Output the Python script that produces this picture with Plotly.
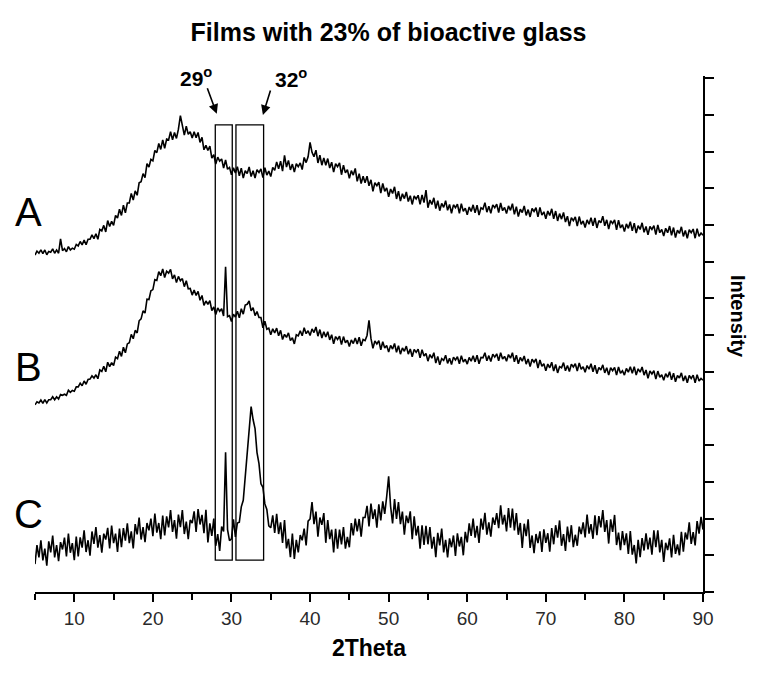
import numpy as np
import plotly.graph_objects as go

# 2Theta grid, 0.25 deg steps from 5 to 90
two_theta = np.round(np.arange(5, 90.001, 0.25), 2)

# intensities (a.u., one tick = 100)
film_a = [
    918, 929, 923, 932, 922, 932, 919, 928, 926, 935, 923, 932, 923, 962, 930, 936,
    927, 941, 932, 937, 934, 947, 943, 955, 946, 959, 946, 961, 961, 973, 963, 976,
    961, 988, 984, 999, 981, 1012, 996, 1010, 999, 1026, 1019, 1043, 1026, 1054, 1033, 1060,
    1060, 1086, 1068, 1093, 1081, 1115, 1118, 1140, 1129, 1167, 1158, 1179, 1175, 1203, 1197, 1222,
    1206, 1232, 1209, 1234, 1232, 1254, 1232, 1252, 1236, 1261, 1298, 1266, 1245, 1269, 1247, 1254,
    1237, 1254, 1238, 1252, 1225, 1239, 1205, 1217, 1203, 1215, 1182, 1192, 1166, 1185, 1174, 1180,
    1155, 1177, 1152, 1157, 1137, 1156, 1142, 1159, 1134, 1155, 1128, 1148, 1140, 1158, 1132, 1148,
    1128, 1151, 1143, 1153, 1129, 1156, 1136, 1147, 1132, 1157, 1149, 1172, 1153, 1174, 1147, 1190,
    1158, 1176, 1150, 1166, 1144, 1167, 1159, 1169, 1151, 1184, 1170, 1186, 1225, 1198, 1186, 1204,
    1169, 1190, 1163, 1183, 1163, 1181, 1155, 1171, 1144, 1167, 1159, 1169, 1137, 1163, 1142, 1151,
    1127, 1148, 1136, 1154, 1119, 1140, 1113, 1133, 1115, 1133, 1107, 1123, 1092, 1115, 1107, 1117,
    1087, 1113, 1092, 1101, 1077, 1098, 1086, 1104, 1071, 1092, 1065, 1085, 1072, 1090, 1064, 1080,
    1056, 1079, 1071, 1081, 1056, 1082, 1061, 1095, 1047, 1068, 1056, 1074, 1045, 1066, 1039, 1059,
    1048, 1066, 1040, 1056, 1032, 1055, 1047, 1057, 1032, 1058, 1037, 1046, 1028, 1049, 1037, 1055,
    1033, 1054, 1027, 1047, 1043, 1061, 1035, 1051, 1032, 1055, 1047, 1057, 1034, 1060, 1039, 1048,
    1031, 1052, 1040, 1058, 1029, 1050, 1023, 1043, 1034, 1052, 1026, 1042, 1022, 1045, 1037, 1047,
    1022, 1048, 1027, 1036, 1017, 1038, 1026, 1044, 1017, 1038, 1011, 1031, 1016, 1034, 1008, 1024,
    997, 1020, 1012, 1022, 997, 1023, 1002, 1011, 993, 1014, 1002, 1020, 998, 1019, 992, 1012,
    1006, 1024, 998, 1014, 989, 1012, 1004, 1014, 987, 1013, 992, 1001, 982, 1003, 991, 1009,
    984, 1005, 978, 998, 988, 1006, 980, 996, 973, 996, 988, 998, 974, 1000, 979, 988,
    970, 991, 979, 997, 972, 993, 966, 986, 977, 995, 969, 985, 964, 987, 979, 989,
    964, 990, 969, 978, 972,
]

film_b = [
    510, 518, 515, 523, 514, 524, 515, 524, 524, 532, 524, 532, 526, 538, 536, 539,
    536, 550, 544, 549, 547, 559, 559, 569, 562, 575, 566, 579, 580, 589, 583, 592,
    581, 605, 601, 615, 600, 626, 614, 625, 617, 640, 636, 656, 642, 667, 652, 676,
    679, 702, 690, 713, 706, 739, 744, 766, 760, 798, 797, 821, 824, 851, 849, 873,
    862, 880, 857, 874, 869, 879, 853, 864, 843, 860, 848, 854, 832, 848, 826, 827,
    809, 823, 808, 819, 795, 808, 781, 793, 784, 794, 767, 777, 756, 774, 765, 772,
    752, 886, 750, 753, 737, 757, 749, 765, 747, 772, 757, 782, 784, 793, 766, 775,
    753, 764, 748, 748, 720, 738, 716, 719, 701, 717, 706, 719, 698, 713, 688, 702,
    694, 706, 685, 693, 676, 701, 698, 712, 698, 720, 704, 712, 699, 717, 707, 722,
    697, 715, 692, 709, 695, 709, 687, 701, 676, 696, 688, 697, 674, 696, 679, 686,
    669, 687, 677, 692, 676, 694, 671, 688, 685, 699, 740, 691, 664, 684, 676, 685,
    660, 682, 665, 672, 654, 672, 662, 677, 653, 671, 648, 665, 656, 670, 648, 662,
    641, 661, 653, 662, 638, 660, 643, 650, 629, 647, 637, 652, 624, 642, 619, 636,
    631, 645, 623, 637, 620, 640, 632, 641, 622, 644, 627, 634, 621, 639, 629, 644,
    627, 645, 622, 639, 638, 652, 630, 644, 628, 648, 640, 649, 630, 652, 635, 642,
    629, 647, 637, 652, 627, 645, 622, 639, 629, 643, 621, 635, 614, 634, 626, 635,
    610, 632, 615, 622, 603, 621, 611, 626, 602, 620, 597, 614, 611, 625, 603, 617,
    601, 621, 613, 622, 602, 624, 607, 614, 599, 617, 607, 622, 600, 618, 595, 612,
    605, 619, 597, 611, 591, 611, 603, 612, 591, 613, 596, 603, 591, 609, 599, 614,
    596, 614, 591, 608, 599, 613, 591, 605, 582, 602, 594, 603, 580, 602, 585, 592,
    577, 595, 585, 600, 578, 596, 573, 590, 583, 597, 575, 589, 570, 590, 582, 591,
    570, 592, 575, 582, 577,
]

film_c = [
    76, 128, 94, 141, 86, 118, 72, 138, 108, 154, 94, 128, 84, 136, 116, 148,
    97, 159, 107, 133, 87, 151, 97, 149, 121, 168, 109, 141, 99, 165, 131, 177,
    121, 155, 107, 159, 143, 175, 119, 181, 133, 159, 109, 173, 122, 174, 140, 187,
    133, 165, 119, 185, 157, 203, 143, 177, 136, 188, 168, 200, 152, 214, 162, 188,
    144, 208, 154, 206, 176, 223, 164, 196, 145, 211, 177, 223, 158, 192, 144, 196,
    188, 220, 164, 226, 184, 210, 160, 224, 135, 187, 153, 200, 126, 158, 112, 178,
    165, 381, 170, 140, 145, 198, 150, 188, 190, 232, 250, 320, 365, 452, 505, 470,
    445, 380, 350, 295, 285, 240, 225, 180, 175, 209, 161, 213, 158, 190, 134, 196,
    119, 145, 95, 159, 90, 142, 108, 155, 141, 173, 127, 193, 199, 245, 185, 219,
    151, 203, 183, 215, 134, 196, 144, 170, 108, 172, 118, 170, 130, 177, 118, 150,
    122, 188, 154, 200, 165, 199, 151, 203, 203, 235, 179, 241, 199, 225, 175, 239,
    195, 247, 213, 260, 315, 233, 187, 253, 199, 245, 185, 219, 156, 208, 188, 220,
    144, 206, 154, 180, 118, 182, 128, 180, 130, 177, 118, 150, 95, 161, 127, 173,
    108, 142, 94, 146, 122, 154, 98, 160, 124, 150, 100, 164, 135, 187, 153, 200,
    148, 180, 134, 200, 170, 216, 156, 190, 151, 203, 183, 215, 174, 236, 184, 210,
    165, 229, 175, 227, 168, 215, 156, 188, 120, 186, 152, 198, 120, 154, 106, 158,
    133, 165, 109, 171, 134, 160, 110, 174, 130, 182, 148, 195, 126, 158, 112, 178,
    136, 182, 122, 156, 126, 178, 158, 190, 149, 211, 159, 185, 145, 209, 155, 207,
    176, 223, 164, 196, 132, 198, 164, 210, 128, 162, 114, 166, 128, 160, 104, 166,
    102, 128, 78, 142, 95, 147, 113, 160, 116, 148, 102, 168, 122, 168, 108, 142,
    82, 134, 114, 146, 94, 156, 104, 130, 100, 164, 110, 162, 143, 190, 131, 163,
    127, 193, 159, 205, 170,
]

curve_labels = ["A", "B", "C"]
label_levels = [1035, 613, 213]

# marked windows (2Theta) and their vertical extent
windows = [(27.94, 30.10), (30.57, 34.09)]
window_span = (87, 1273)
peak_marks = ["29<sup>o</sup>", "32<sup>o</sup>"]
peak_arrow_tips = [(28.13, 1303), (34.0, 1300)]

font = "Liberation Sans, Arial, sans-serif"

fig = go.Figure()
for ys in (film_a, film_b, film_c):
    fig.add_trace(go.Scatter(x=two_theta, y=ys, mode="lines",
                             line=dict(color="black", width=1.6),
                             showlegend=False, hoverinfo="skip"))

for x0, x1 in windows:
    fig.add_shape(type="rect", x0=x0, x1=x1, y0=window_span[0], y1=window_span[1],
                  xref="x", yref="y", line=dict(color="black", width=1.3))

for lab, lvl in zip(curve_labels, label_levels):
    fig.add_annotation(x=-0.009, y=lvl, xref="paper", yref="y", text=lab, showarrow=False,
                       xanchor="center", yanchor="middle",
                       font=dict(family=font, size=40, color="black"))

# arrows + peak positions
tails = [(-10, -27), (8, -26)]
text_shift = [(-21, 37), (28, 37)]
for txt, (tx, ty), (ax, ay), (sx, sy) in zip(peak_marks, peak_arrow_tips, tails, text_shift):
    fig.add_annotation(x=tx, y=ty, xref="x", yref="y", text="", showarrow=True,
                       ax=ax, ay=ay, arrowhead=2, arrowsize=1.2, arrowwidth=1.6,
                       arrowcolor="black")
    fig.add_annotation(x=tx, y=ty, xref="x", yref="y", text="<b>" + txt + "</b>",
                       showarrow=False, xshift=sx, yshift=sy,
                       xanchor="center", yanchor="middle",
                       font=dict(family=font, size=21, color="black"))

fig.add_annotation(x=1.0524, y=0.535, xref="paper", yref="paper", text="<b>Intensity</b>",
                   textangle=90, showarrow=False, xanchor="center", yanchor="middle",
                   font=dict(family=font, size=20, color="black"))

# page body adds an 8px margin, so the figure is drawn 8px smaller
fig.update_layout(
    width=761, height=668,
    margin=dict(l=27, r=66, t=68, b=84),
    paper_bgcolor="white", plot_bgcolor="white",
    title=dict(text="<b>Films with 23% of bioactive glass</b>", x=0.5, xref="container",
               y=1 - 24 / 668, yref="container", xanchor="center", yanchor="middle",
               font=dict(family=font, size=25, color="black")),
    font=dict(family=font, color="black"),
)
fig.update_xaxes(range=[5, 90], showline=True, linecolor="black", linewidth=2,
                 ticks="outside", ticklen=8, tickwidth=1.5, tickcolor="black",
                 tick0=0, dtick=10, showgrid=False, zeroline=False,
                 minor=dict(ticks="outside", ticklen=6, tickwidth=1.5, tickcolor="black", dtick=5),
                 tickfont=dict(family=font, size=19, color="#2a2a2a"),
                 title=dict(text="<b>2Theta</b>", standoff=12,
                            font=dict(family=font, size=23, color="black")))
fig.update_yaxes(range=[0, 1406], side="right", showline=True, linecolor="black", linewidth=2,
                 ticks="outside", ticklen=9, tickwidth=1.5, tickcolor="black",
                 tick0=0, dtick=100, showticklabels=False, showgrid=False, zeroline=False)

fig.write_html("out.html")
